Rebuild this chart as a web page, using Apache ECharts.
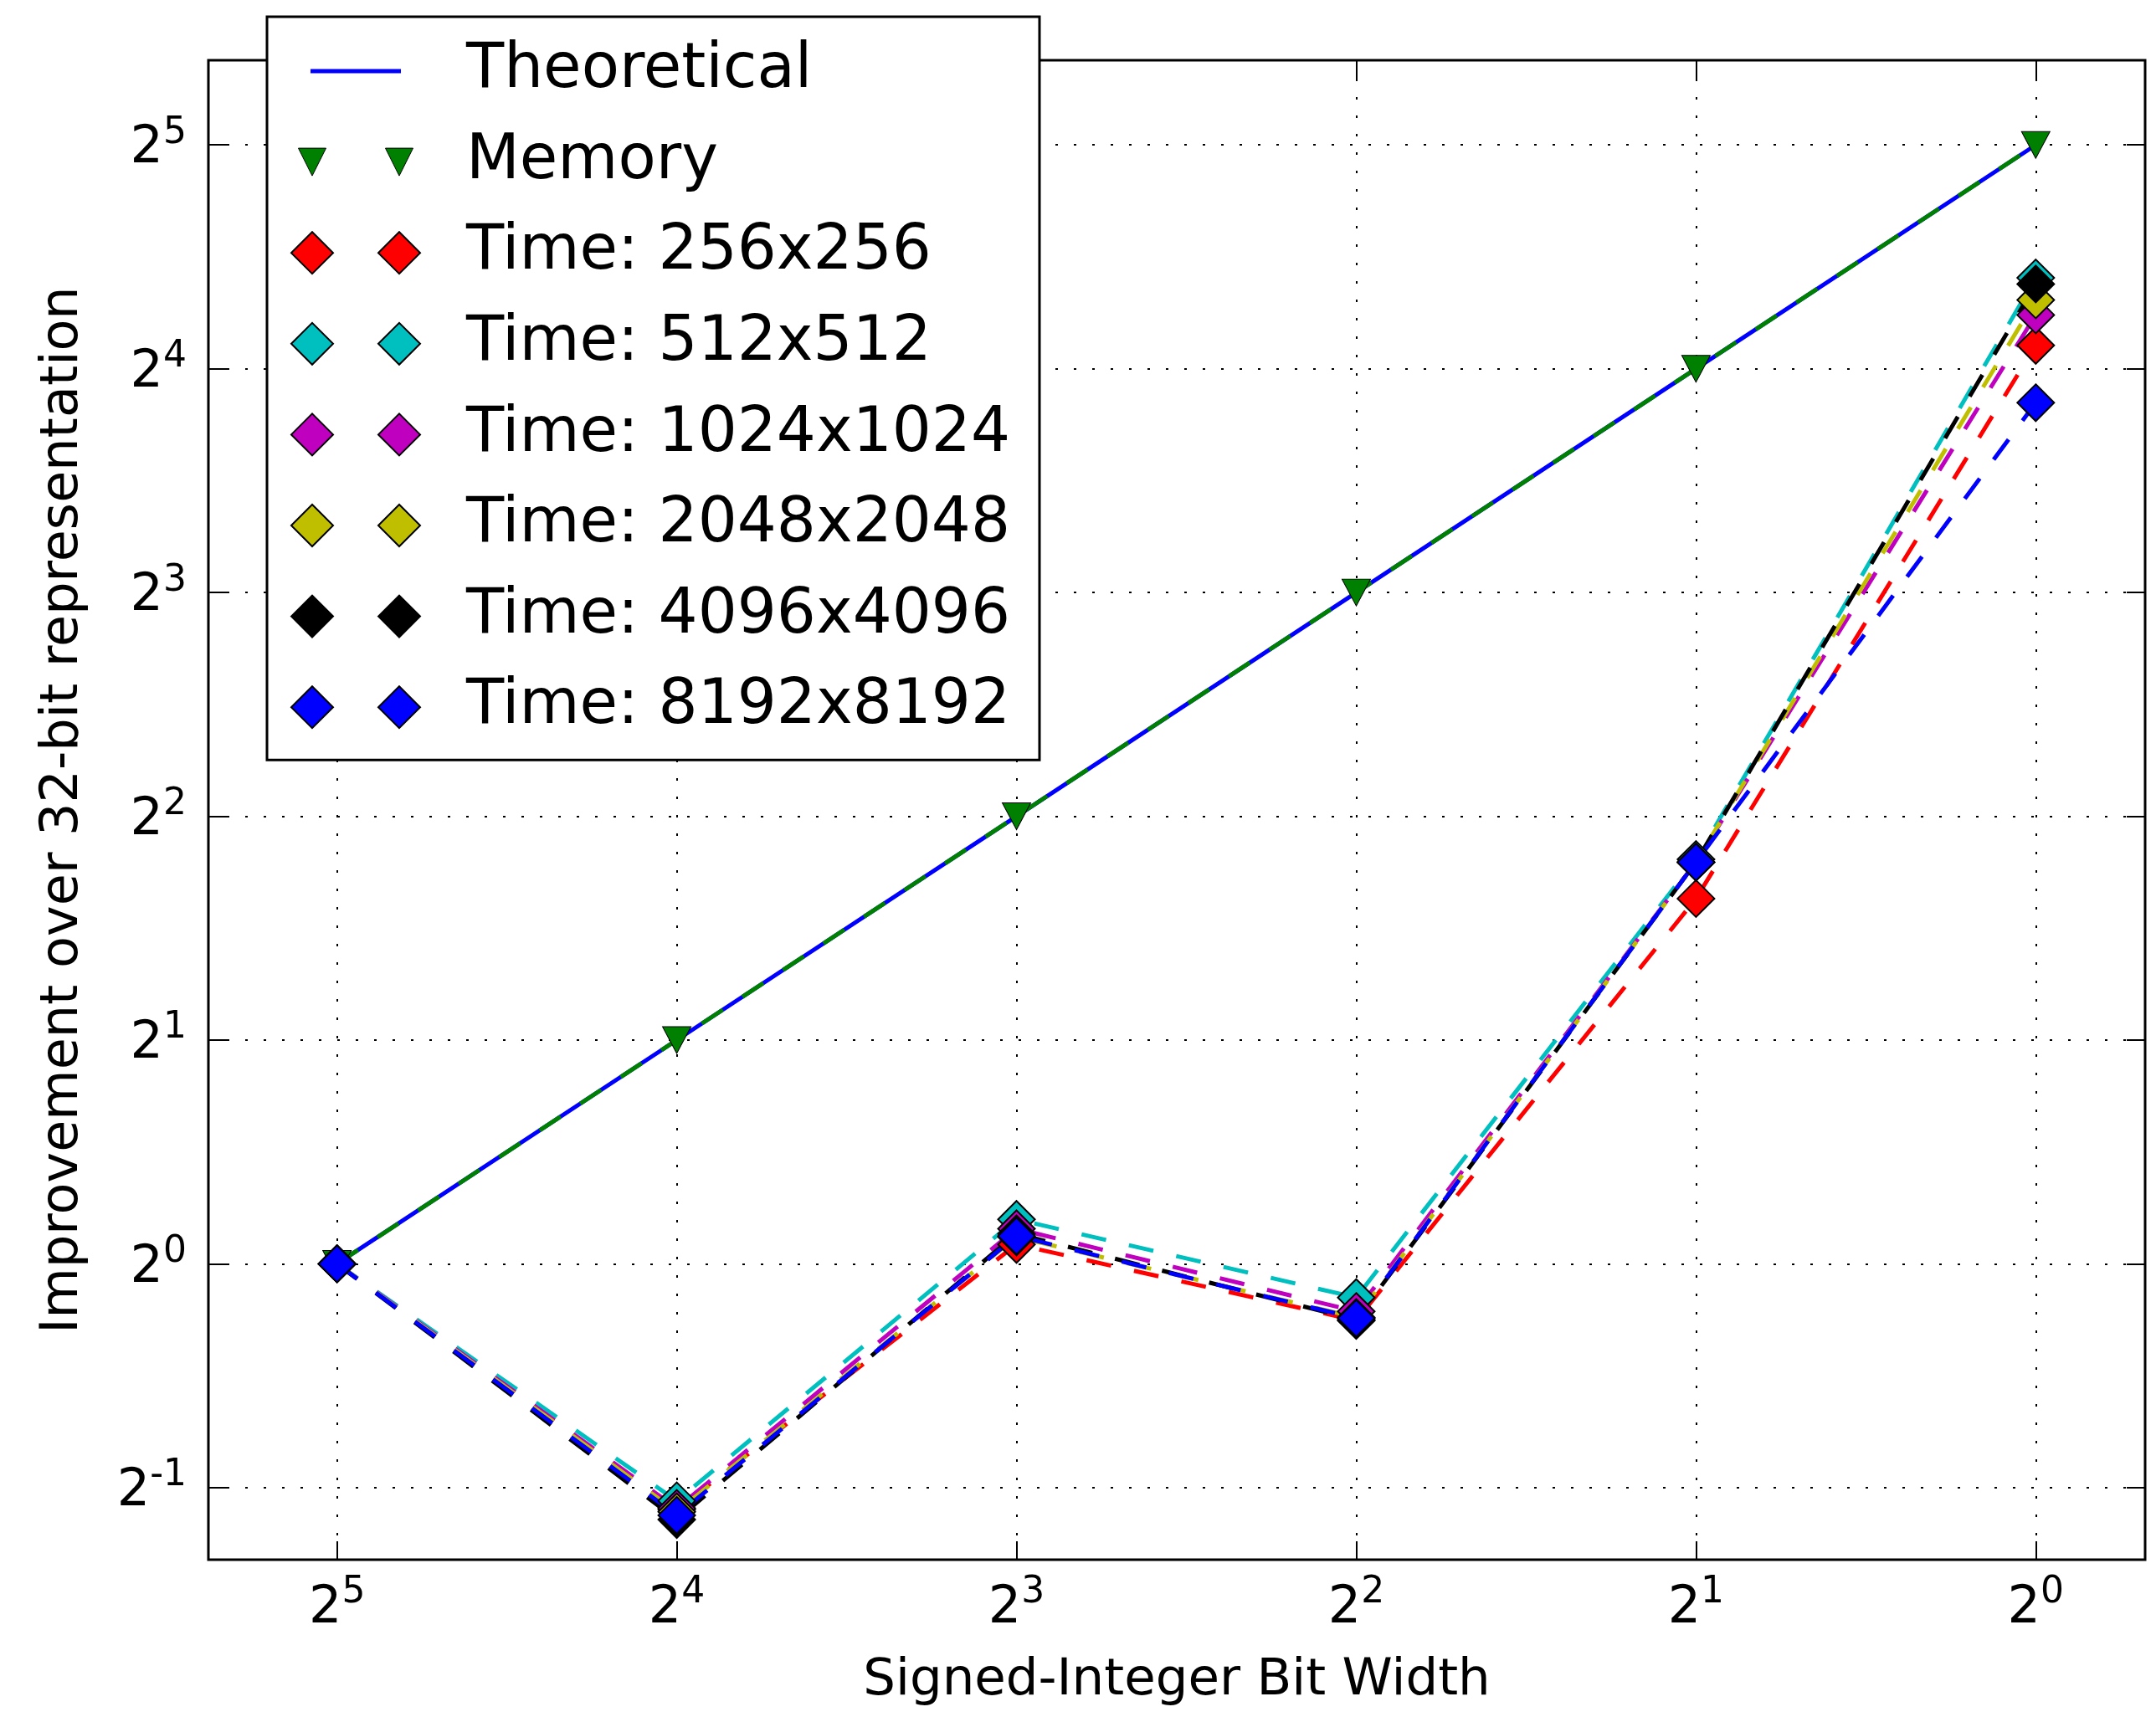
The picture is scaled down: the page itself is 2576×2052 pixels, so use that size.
<!DOCTYPE html>
<html>
<head>
<meta charset="utf-8">
<script src="https://cdn.jsdelivr.net/npm/echarts@6/dist/echarts.min.js"></script>
<style>
    body { margin: 0; background: #fff; }
    #main { width: 2576px; height: 2052px; }
</style>
</head>
<body>
<div id="main"></div>
<script>
    // bit widths on the x axis (plotted as log2)
    var bitWidths = [32, 16, 8, 4, 2, 1];
    var theoretical = [1, 2, 4, 8, 16, 32];
    var memory = [1, 2, 4, 8, 16, 32];
    var time256 = [1, 0.467, 1.062, 0.839, 3.10, 17.2];
    var time512 = [1, 0.480, 1.148, 0.901, 3.50, 21.2];
    var time1024 = [1, 0.469, 1.115, 0.863, 3.47, 18.9];
    var time2048 = [1, 0.464, 1.087, 0.847, 3.47, 19.8];
    var time4096 = [1, 0.453, 1.098, 0.841, 3.47, 20.8];
    var time8192 = [1, 0.459, 1.090, 0.845, 3.47, 14.4];
    var xTicks = [0, 1, 2, 3, 4, 5];
    var yTicks = [-1, 0, 1, 2, 3, 4, 5];

    var font = 'DejaVu Sans';

    function pairs(vals) {
        return vals.map(function(v, i) {
            return [Math.log2(bitWidths[i]), Math.log2(v)];
        });
    }

    function pow2(v) {
        return '{b|2}{s|' + v + '}';
    }

    var rich = {
        b: { fontSize: 62, fontFamily: font, color: '#000', verticalAlign: 'bottom', lineHeight: 72 },
        s: { fontSize: 44, fontFamily: font, color: '#000', verticalAlign: 'top', lineHeight: 44 }
    };

    var tick = { show: true, inside: true, length: 22, lineStyle: { color: '#000', width: 2 } };
    var noLine = { show: false, onZero: false };
    var dash = [30, 28];

    // legend icons: two markers like matplotlib, box 204x50
    var diamondIcon = 'path://M0,25 L25,0 L50,25 L25,50 Z M104,25 L129,0 L154,25 L129,50 Z M0,0 L0,0 M204,50 L204,50';
    var triIcon = 'path://M8.5,8.5 L41.5,8.5 L25,41.5 Z M112.5,8.5 L145.5,8.5 L129,41.5 Z M0,0 L0,0 M204,50 L204,50';
    var lineIcon = 'path://M23,22.5 L131,22.5 L131,27.5 L23,27.5 Z M0,0 L0,0 M204,50 L204,50';

    var timeSeries = [
        { name: 'Time: 256x256', data: time256, color: '#ff0000' },
        { name: 'Time: 512x512', data: time512, color: '#00bfbf' },
        { name: 'Time: 1024x1024', data: time1024, color: '#bf00bf' },
        { name: 'Time: 2048x2048', data: time2048, color: '#bfbf00' },
        { name: 'Time: 4096x4096', data: time4096, color: '#000000' },
        { name: 'Time: 8192x8192', data: time8192, color: '#0000ff' }
    ];

    var series = [
        {
            name: 'Theoretical',
            type: 'line',
            data: pairs(theoretical),
            symbol: 'none',
            color: '#0000ff',
            lineStyle: { color: '#0000ff', width: 5 }
        },
        {
            name: 'Memory',
            type: 'line',
            data: pairs(memory),
            symbol: 'triangle',
            symbolRotate: 180,
            symbolSize: [34, 32],
            color: '#008000',
            itemStyle: { color: '#008000', borderColor: '#000', borderWidth: 1 },
            lineStyle: { color: '#008000', width: 5, type: dash }
        }
    ];

    var legendData = [
        { name: 'Theoretical', icon: lineIcon, itemStyle: { color: '#0000ff', borderWidth: 0 } },
        { name: 'Memory', icon: triIcon, itemStyle: { color: '#008000', borderColor: '#000', borderWidth: 1 } }
    ];

    timeSeries.forEach(function(t) {
        series.push({
            name: t.name,
            type: 'line',
            data: pairs(t.data),
            symbol: 'diamond',
            symbolSize: 44,
            color: t.color,
            itemStyle: { color: t.color, borderColor: '#000', borderWidth: 2 },
            lineStyle: { color: t.color, width: 5, type: dash }
        });
        legendData.push({
            name: t.name,
            icon: diamondIcon,
            itemStyle: { color: t.color, borderColor: '#000', borderWidth: 2 }
        });
    });

    var chart = echarts.init(document.getElementById('main'), null, { renderer: 'canvas' });
    chart.setOption({
        backgroundColor: '#fff',
        animation: false,
        grid: {
            left: 249, right: 13, top: 72, bottom: 188,
            show: true, borderColor: '#000', borderWidth: 3, backgroundColor: 'transparent'
        },
        legend: {
            orient: 'vertical',
            left: 319,
            top: 20,
            padding: [28, 35, 26, 28],
            itemGap: 34.6,
            itemWidth: 204,
            itemHeight: 50,
            backgroundColor: '#fff',
            borderColor: '#000',
            borderWidth: 3,
            textStyle: { fontSize: 74, fontFamily: font, color: '#000' },
            selectedMode: false,
            data: legendData
        },
        xAxis: [
            {
                type: 'value',
                inverse: true,
                min: Math.log2(0.8),
                max: Math.log2(41.6),
                position: 'bottom',
                name: 'Signed-Integer Bit Width',
                nameLocation: 'middle',
                nameGap: 115,
                nameTextStyle: { fontSize: 61, fontFamily: font, color: '#000' },
                axisLine: noLine,
                axisTick: Object.assign({ customValues: xTicks }, tick),
                axisLabel: { customValues: xTicks, formatter: pow2, margin: 18, rich: rich },
                splitLine: { show: true, lineStyle: { color: '#000', width: 2, type: [3, 19] } }
            },
            {
                type: 'value',
                inverse: true,
                min: Math.log2(0.8),
                max: Math.log2(41.6),
                position: 'top',
                axisLine: noLine,
                axisTick: Object.assign({ customValues: xTicks }, tick),
                axisLabel: { show: false },
                splitLine: { show: false }
            }
        ],
        yAxis: [
            {
                type: 'value',
                min: Math.log2(0.4),
                max: Math.log2(41.6),
                position: 'left',
                name: 'Improvement over 32-bit representation',
                nameLocation: 'middle',
                nameGap: 142,
                nameTextStyle: { fontSize: 62, fontFamily: font, color: '#000' },
                axisLine: noLine,
                axisTick: Object.assign({ customValues: yTicks }, tick),
                axisLabel: { customValues: yTicks, formatter: pow2, margin: 26, rich: rich },
                splitLine: { show: true, lineStyle: { color: '#000', width: 2, type: [3, 19] } }
            },
            {
                type: 'value',
                min: Math.log2(0.4),
                max: Math.log2(41.6),
                position: 'right',
                axisLine: noLine,
                axisTick: Object.assign({ customValues: yTicks }, tick),
                axisLabel: { show: false },
                splitLine: { show: false }
            }
        ],
        series: series
    });
</script>
</body>
</html>
